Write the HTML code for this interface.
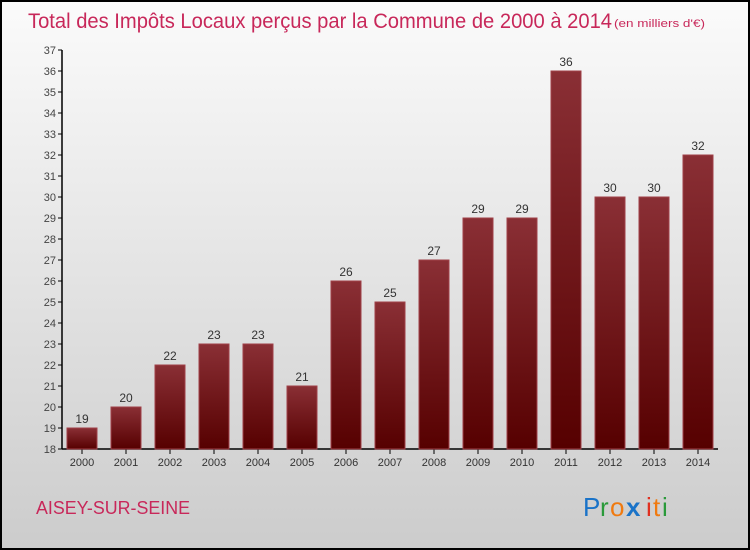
<!DOCTYPE html>
<html><head><meta charset="utf-8"><style>
body{margin:0;width:750px;height:550px;overflow:hidden}
svg{display:block}
text{font-family:"Liberation Sans",sans-serif}
</style></head><body>
<svg width="750" height="550">
<defs>
<linearGradient id="bg" x1="0" y1="0" x2="0" y2="1"><stop offset="0" stop-color="#fbfbfb"/><stop offset="1" stop-color="#cccccc"/></linearGradient>
<linearGradient id="bar" x1="0" y1="0" x2="0" y2="1"><stop offset="0" stop-color="#8a2f35"/><stop offset="1" stop-color="#560000"/></linearGradient>
</defs>
<rect x="1" y="1" width="748" height="548" fill="url(#bg)" stroke="#000" stroke-width="2"/>
<text x="28" y="28" font-size="21" fill="#c8285a" textLength="584" lengthAdjust="spacingAndGlyphs">Total des Impôts Locaux perçus par la Commune de 2000 à 2014</text>
<text x="614" y="27" font-size="11" fill="#c8285a" textLength="91" lengthAdjust="spacingAndGlyphs">(en milliers d'€)</text>
<g id="axes"></g>
<g id="bars"></g>
<text x="36" y="514" font-size="18" fill="#c8285a" textLength="154" lengthAdjust="spacingAndGlyphs">AISEY-SUR-SEINE</text>
<g font-size="26" font-family="Liberation Sans">
<text x="583" y="516" fill="#1a73c8">P</text><text x="600" y="516" fill="#2a9a3a">r</text><text x="610" y="516" fill="#f07a10">o</text><text x="626" y="516" fill="#1a73c8" font-weight="bold">x</text><text x="646" y="516" fill="#e03020">i</text><text x="653" y="516" fill="#f07a10">t</text><text x="662" y="516" fill="#2a9a3a">i</text>
</g>
</svg>
<script>
const years=["2000","2001","2002","2003","2004","2005","2006","2007","2008","2009","2010","2011","2012","2013","2014"];
const values=[19,20,22,23,23,21,26,25,27,29,29,36,30,30,32];
const yTicks=[18,19,20,21,22,23,24,25,26,27,28,29,30,31,32,33,34,35,36,37];
const NS="http://www.w3.org/2000/svg";
const y=v=>449-(v-18)*21;
const x=i=>82+i*44;
function mk(t,a,p){const e=document.createElementNS(NS,t);for(const k in a)e.setAttribute(k,a[k]);p.appendChild(e);return e;}
const ax=document.getElementById('axes'),bg=document.getElementById('bars');
const yl=mk('line',{x1:62,y1:50,x2:62,y2:449,stroke:'#000','stroke-width':1.5},ax);


const xl=mk('line',{x1:62,y1:449,x2:718,y2:449,stroke:'#000','stroke-width':1.5},ax);


yTicks.forEach(v=>{
 mk('line',{x1:58,y1:y(v),x2:62,y2:y(v),stroke:'#000'},ax);
 const t=mk('text',{x:56,y:y(v)+4,'font-size':11,fill:'#444','text-anchor':'end'},ax);t.textContent=v;
 
 
});
years.forEach((yr,i)=>{
 const r=mk('rect',{x:x(i)-15,y:y(values[i]),width:30,height:449-y(values[i]),fill:'url(#bar)',stroke:'#a04048','stroke-width':1},bg);
 
 
 const l=mk('text',{x:x(i),y:y(values[i])-5,'font-size':12,fill:'#333','text-anchor':'middle'},bg);l.textContent=values[i];
 
 
 mk('line',{x1:x(i),y1:449,x2:x(i),y2:454,stroke:'#000'},ax);
 const t=mk('text',{x:x(i),y:466,'font-size':11,fill:'#333','text-anchor':'middle'},ax);t.textContent=yr;
 
 
});
</script>
</body></html>
